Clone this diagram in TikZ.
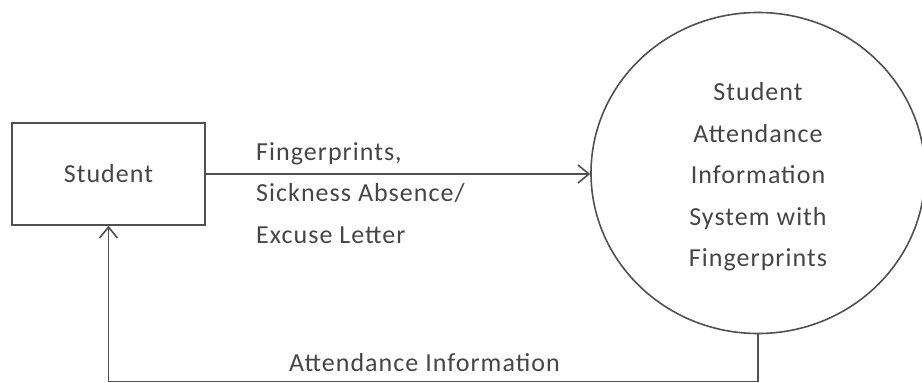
\documentclass[tikz,border=0pt]{standalone}
\usepackage{fontspec}
\setmainfont[LetterSpace=4]{Carlito}
\usetikzlibrary{arrows.meta,shapes.geometric}
\definecolor{linec}{HTML}{505050}
\definecolor{textc}{HTML}{454545}
\begin{document}
\begin{tikzpicture}[x=1pt,y=-1pt,
  every node/.style={text=textc, font=\fontsize{26}{41.5}\selectfont},
  box/.style={draw=linec, line width=1.6pt, minimum width=193pt, minimum height=102pt, inner sep=0pt},
  proc/.style={draw=linec, line width=1.6pt, ellipse, minimum width=334pt, minimum height=321pt, inner sep=0pt, align=center},
  flow/.style={draw=linec, line width=1.6pt, -{Straight Barb[length=11pt,width=18pt,line width=1.6pt]}},
  lbl/.style={align=left, inner sep=0pt}]
\useasboundingbox (0,0) rectangle (922,383);
\node[box] (stu) at (108.5,174) {Student};
\node[proc] (sys) at (758,173) {\rule{0pt}{26pt}Student\\Attendance\\Information\\System with\\Fingerprints};
\coordinate (bot) at (108,381.5);
\draw[flow] (stu.east) -- (stu.east -| sys.west);
\draw[flow] (sys.south) -- (sys.south |- bot) -- (stu.south |- bot) -- (stu.south);
\node[lbl, anchor=north west] (l1) at (256,142) {Fingerprints,\\Sickness Absence/\\Excuse Letter};
\node[lbl, anchor=base west] (l2) at (289,371) {Attendance Information};
\end{tikzpicture}
\end{document}
